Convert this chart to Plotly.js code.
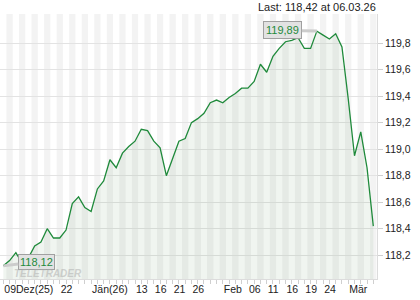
<!DOCTYPE html>
<html>
<head>
<meta charset="utf-8">
<script src="https://cdn.plot.ly/plotly-3.0.1.min.js"></script>
<style>
  html, body { margin: 0; padding: 0; background: #fff; }
  #chart { width: 420px; height: 300px; }
</style>
</head>
<body>
<div id="chart"></div>
<script>
// Trading days (category axis)
const dates = [
  '2025-12-09','2025-12-10','2025-12-11','2025-12-12','2025-12-15','2025-12-16','2025-12-17','2025-12-18','2025-12-19',
  '2025-12-22','2025-12-23','2025-12-29','2025-12-30','2025-12-31',
  '2026-01-02','2026-01-05','2026-01-06','2026-01-07','2026-01-08','2026-01-09','2026-01-12','2026-01-13','2026-01-14',
  '2026-01-15','2026-01-16','2026-01-19','2026-01-20','2026-01-21','2026-01-22','2026-01-23','2026-01-26','2026-01-27',
  '2026-01-28','2026-01-29','2026-01-30',
  '2026-02-02','2026-02-03','2026-02-04','2026-02-05','2026-02-06','2026-02-09','2026-02-10','2026-02-11','2026-02-12',
  '2026-02-13','2026-02-16','2026-02-17','2026-02-18','2026-02-19','2026-02-20','2026-02-23','2026-02-24','2026-02-25',
  '2026-02-26','2026-02-27',
  '2026-03-02','2026-03-03','2026-03-04','2026-03-05','2026-03-06'
];

const values = [
  118.12, 118.16, 118.22, 118.14, 118.18, 118.27, 118.30, 118.40, 118.33,
  118.33, 118.39, 118.59, 118.64, 118.56,
  118.53, 118.70, 118.76, 118.92, 118.86, 118.97, 119.02, 119.06, 119.15,
  119.14, 119.06, 119.01, 118.80, 118.93, 119.06, 119.08, 119.20, 119.23,
  119.27, 119.35, 119.37,
  119.35, 119.39, 119.42, 119.46, 119.46, 119.51, 119.64, 119.58, 119.70,
  119.76, 119.81, 119.82, 119.84, 119.76, 119.76, 119.89, 119.86, 119.83,
  119.87, 119.77,
  119.38, 118.95, 119.13, 118.86, 118.42
];

const tickDates  = ['2025-12-09','2025-12-22','2026-01-02','2026-01-13','2026-01-16','2026-01-21','2026-01-26',
                    '2026-02-02','2026-02-06','2026-02-11','2026-02-16','2026-02-19','2026-02-24','2026-03-02'];
const tickLabels = ['09Dez(25)','22','Jän(26)','13','16','21','26','Feb','06','11','16','19','24','Mär'];

const yTickVals = [118.2, 118.4, 118.6, 118.8, 119.0, 119.2, 119.4, 119.6, 119.8];

const lastLabel = 'Last: 118,42 at 06.03.26';
const maxLabel = '119,89';
const minLabel = '118,12';

// ---- derived ----
const tickText = dates.map(d => {
  const k = tickDates.indexOf(d);
  return k >= 0 ? tickLabels[k] : '';
});

let maxIdx = 0, minIdx = 0;
values.forEach((v, i) => { if (v > values[maxIdx]) maxIdx = i; if (v < values[minIdx]) minIdx = i; });

// alternating day stripes (background)
const shapes = [];
dates.forEach((d, i) => {
  if (i % 2 === 1) {
    shapes.push({
      type: 'rect', xref: 'x', yref: 'paper', layer: 'below',
      x0: i - 0.5, x1: i + 0.5, y0: 0, y1: 1,
      fillcolor: '#f3f3f3', line: { width: 0 }
    });
  }
});

const green = '#1f8a3b';
const fontFam = '"Liberation Sans", Arial, sans-serif';

const trace = {
  type: 'scatter', mode: 'lines',
  x: dates, y: values,
  line: { color: green, width: 1.3 },
  fill: 'tozeroy', fillcolor: 'rgba(70,130,60,0.08)',
  hoverinfo: 'skip'
};

const layout = {
  width: 420, height: 300,
  margin: { l: 0, r: 43, t: 14, b: 21, pad: 0 },
  paper_bgcolor: '#ffffff', plot_bgcolor: '#ffffff',
  separators: ',.',
  showlegend: false,
  font: { family: fontFam, size: 10.5, color: '#222' },
  xaxis: {
    type: 'category',
    range: [-0.53, 59.59],
    tickmode: 'array', tickvals: dates, ticktext: tickText,
    tickangle: 0,
    ticks: 'outside', ticklen: 4, tickcolor: '#cfcfcf', tickwidth: 1,
    ticklabelposition: 'outside right',
    showgrid: false, zeroline: false,
    showline: true, linecolor: '#dcdcdc', linewidth: 1,
    tickfont: { family: fontFam, size: 10.5, color: '#222' },
    fixedrange: true
  },
  yaxis: {
    side: 'right',
    range: [118.021, 120.019],
    tickmode: 'array', tickvals: yTickVals,
    tickformat: '.1f',
    ticks: 'outside', ticklen: 5, tickcolor: '#cfcfcf',
    showgrid: true, gridcolor: '#e3e3e3', gridwidth: 1,
    zeroline: false,
    showline: true, linecolor: '#dcdcdc', linewidth: 1,
    tickfont: { family: fontFam, size: 10.5, color: '#222' },
    fixedrange: true
  },
  shapes: shapes,
  annotations: [
    {
      xref: 'paper', yref: 'paper', x: 1.003, y: 1.026,
      xanchor: 'right', yanchor: 'middle',
      text: lastLabel, showarrow: false,
      font: { family: fontFam, size: 11, color: '#222' }
    },
    {
      xref: 'x', yref: 'y', x: dates[maxIdx], y: values[maxIdx],
      text: maxLabel, showarrow: true, arrowhead: 0, arrowwidth: 3, arrowcolor: '#cccccc',
      ax: -34, ay: -1,
      bgcolor: '#e2e2e2', bordercolor: '#a0a0a0', borderwidth: 1, borderpad: 2,
      font: { family: fontFam, size: 11, color: green }
    },
    {
      xref: 'x', yref: 'y', x: dates[minIdx], y: values[minIdx],
      text: minLabel, showarrow: true, arrowhead: 0, arrowwidth: 3, arrowcolor: '#cccccc',
      ax: 33, ay: -4,
      bgcolor: '#e2e2e2', bordercolor: '#a0a0a0', borderwidth: 1, borderpad: 1,
      font: { family: fontFam, size: 11, color: green }
    },
    {
      xref: 'paper', yref: 'paper', x: 12 / 377, y: -0.008,
      xanchor: 'left', yanchor: 'bottom',
      text: '<b><i>TELETRADER</i></b>', showarrow: false,
      font: { family: fontFam, size: 10, color: 'rgba(170,170,170,0.5)' }
    }
  ]
};

Plotly.newPlot('chart', [trace], layout, { staticPlot: true, displayModeBar: false });
</script>
</body>
</html>
